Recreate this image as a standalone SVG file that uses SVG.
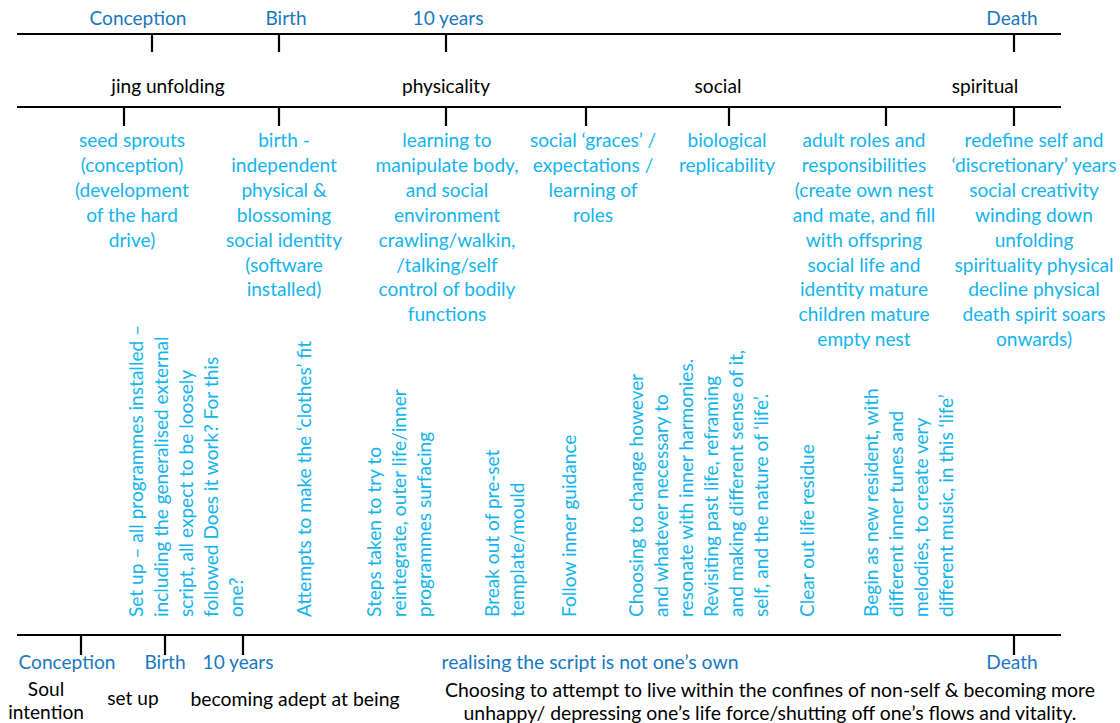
<svg xmlns="http://www.w3.org/2000/svg" width="1120" height="723" viewBox="0 0 1120 723">
<style>
text{font-family:Lato,"Open Sans",sans-serif;font-size:19.1px}
.lb{fill:#1a78c2;text-anchor:middle}
.bk{fill:#000;text-anchor:middle}
.big{font-size:19.4px}
.cy{fill:#14b4ee;text-anchor:middle}
.vt{fill:#14b4ee;text-anchor:start}
.ln{stroke:#000;stroke-width:2.2;fill:none}
</style>
<rect width="1120" height="723" fill="#fff"/>
<g id="connectors">
<path class="ln" d="M17 34H1061M152 34V52M279 34V52M446 34V52M1014 34V52"/>
<path class="ln" d="M17 107H1061M124 107V126M279 107V126M446 107V126M586 107V126M729 107V126M886 107V126M1014 107V126"/>
<path class="ln" d="M17 635H1061M81 635V655M165 635V655M243 635V655M1014 635V655"/>
</g>
<g id="top-labels">
<text class="lb" x="138" y="25">Conception</text>
<text class="lb" x="286" y="25">Birth</text>
<text class="lb" x="448" y="25">10 years</text>
<text class="lb" x="1012" y="25">Death</text>
</g>
<g id="phases">
<text class="bk" x="168" y="93">jing unfolding</text>
<text class="bk" x="446" y="93">physicality</text>
<text class="bk" x="718" y="93">social</text>
<text class="bk" x="985" y="93">spiritual</text>
</g>
<g id="stage1"><text class="cy" y="147"><tspan x="132">seed sprouts</tspan><tspan x="132" dy="24.9">(conception)</tspan><tspan x="132" dy="24.9">(development</tspan><tspan x="132" dy="24.9">of the hard</tspan><tspan x="132" dy="24.9">drive)</tspan></text></g>
<g id="stage2"><text class="cy" y="147"><tspan x="284">birth -</tspan><tspan x="284" dy="24.9">independent</tspan><tspan x="284" dy="24.9">physical &amp;</tspan><tspan x="284" dy="24.9">blossoming</tspan><tspan x="284" dy="24.9">social identity</tspan><tspan x="284" dy="24.9">(software</tspan><tspan x="284" dy="24.9">installed)</tspan></text></g>
<g id="stage3"><text class="cy" y="147"><tspan x="447">learning to</tspan><tspan x="447" dy="24.9">manipulate body,</tspan><tspan x="447" dy="24.9">and social</tspan><tspan x="447" dy="24.9">environment</tspan><tspan x="447" dy="24.9">crawling/walkin,</tspan><tspan x="447" dy="24.9">/talking/self</tspan><tspan x="447" dy="24.9">control of bodily</tspan><tspan x="447" dy="24.9">functions</tspan></text></g>
<g id="stage4"><text class="cy" y="147"><tspan x="593">social ‘graces’ /</tspan><tspan x="593" dy="24.9">expectations /</tspan><tspan x="593" dy="24.9">learning of</tspan><tspan x="593" dy="24.9">roles</tspan></text></g>
<g id="stage5"><text class="cy" y="147"><tspan x="727">biological</tspan><tspan x="727" dy="24.9">replicability</tspan></text></g>
<g id="stage6"><text class="cy" y="147"><tspan x="864">adult roles and</tspan><tspan x="864" dy="24.9">responsibilities</tspan><tspan x="864" dy="24.9">(create own nest</tspan><tspan x="864" dy="24.9">and mate, and fill</tspan><tspan x="864" dy="24.9">with offspring</tspan><tspan x="864" dy="24.9">social life and</tspan><tspan x="864" dy="24.9">identity mature</tspan><tspan x="864" dy="24.9">children mature</tspan><tspan x="864" dy="24.9">empty nest</tspan></text></g>
<g id="stage7"><text class="cy" y="147"><tspan x="1034">redefine self and</tspan><tspan x="1034" dy="24.9">‘discretionary’ years</tspan><tspan x="1034" dy="24.9">social creativity</tspan><tspan x="1034" dy="24.9">winding down</tspan><tspan x="1034" dy="24.9">unfolding</tspan><tspan x="1034" dy="24.9">spirituality physical</tspan><tspan x="1034" dy="24.9">decline physical</tspan><tspan x="1034" dy="24.9">death spirit soars</tspan><tspan x="1034" dy="24.9">onwards)</tspan></text></g>
<g id="script1">
<text class="vt" transform="translate(143 617) rotate(-90)">Set up – all programmes installed –</text>
<text class="vt" transform="translate(168 617) rotate(-90)">including the generalised external</text>
<text class="vt" transform="translate(193 617) rotate(-90)">script, all expect to be loosely</text>
<text class="vt" transform="translate(218 617) rotate(-90)">followed Does it work? For this</text>
<text class="vt" transform="translate(243 617) rotate(-90)">one?</text>
</g>
<g id="script2">
<text class="vt" transform="translate(311 617) rotate(-90)">Attempts to make the ‘clothes’ fit</text>
</g>
<g id="script3">
<text class="vt" transform="translate(381 617) rotate(-90)">Steps taken to try to</text>
<text class="vt" transform="translate(406 617) rotate(-90)">reintegrate, outer life/inner</text>
<text class="vt" transform="translate(431 617) rotate(-90)">programmes surfacing</text>
</g>
<g id="script4">
<text class="vt" transform="translate(499 617) rotate(-90)">Break out of pre-set</text>
<text class="vt" transform="translate(524 617) rotate(-90)">template/mould</text>
</g>
<g id="script5">
<text class="vt" transform="translate(576 617) rotate(-90)">Follow inner guidance</text>
</g>
<g id="script6">
<text class="vt" transform="translate(643 617) rotate(-90)">Choosing to change however</text>
<text class="vt" transform="translate(668 617) rotate(-90)">and whatever necessary to</text>
<text class="vt" transform="translate(693 617) rotate(-90)">resonate with inner harmonies.</text>
<text class="vt" transform="translate(718 617) rotate(-90)">Revisiting past life, reframing</text>
<text class="vt" transform="translate(743 617) rotate(-90)">and making different sense of it,</text>
<text class="vt" transform="translate(768 617) rotate(-90)">self, and the nature of ‘life’.</text>
</g>
<g id="script7">
<text class="vt" transform="translate(814 617) rotate(-90)">Clear out life residue</text>
</g>
<g id="script8">
<text class="vt" transform="translate(878 617) rotate(-90)">Begin as new resident, with</text>
<text class="vt" transform="translate(903 617) rotate(-90)">different inner tunes and</text>
<text class="vt" transform="translate(928 617) rotate(-90)">melodies, to create very</text>
<text class="vt" transform="translate(953 617) rotate(-90)">different music, in this ‘life’</text>
</g>
<g id="bottom-labels">
<text class="lb" x="67" y="669">Conception</text>
<text class="lb" x="165" y="669">Birth</text>
<text class="lb" x="238" y="669">10 years</text>
<text class="lb big" x="590" y="669">realising the script is not one’s own</text>
<text class="lb" x="1012" y="669">Death</text>
</g>
<g id="bottom-notes">
<text class="bk" x="46" y="696">Soul</text>
<text class="bk" x="46" y="719">intention</text>
<text class="bk" x="133" y="705">set up</text>
<text class="bk big" x="295" y="706">becoming adept at being</text>
<text class="bk big" x="770" y="697">Choosing to attempt to live within the confines of non-self &amp; becoming more</text>
<text class="bk big" x="770" y="720">unhappy/ depressing one’s life force/shutting off one’s flows and vitality.</text>
</g>
</svg>
